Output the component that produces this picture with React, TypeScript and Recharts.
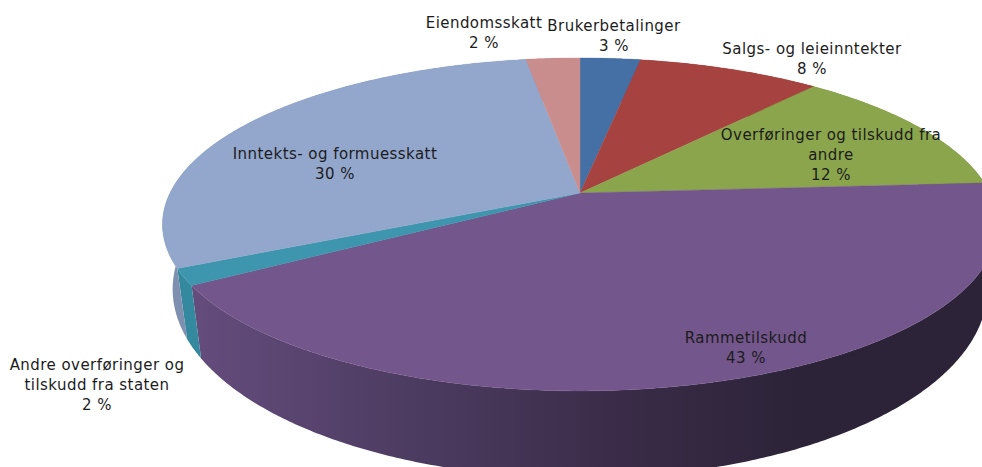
import React from "react";
import { PieChart, Pie } from "recharts";

const names = [
  "Brukerbetalinger",
  "Salgs- og leieinntekter",
  "Overføringer og tilskudd fra andre",
  "Rammetilskudd",
  "Andre overføringer og tilskudd fra staten",
  "Inntekts- og formuesskatt",
  "Eiendomsskatt",
];
const shares = [2.8, 8.5, 12.7, 42.3, 1.6, 29.6, 2.5];
const percentLabels = ["3 %", "8 %", "12 %", "43 %", "2 %", "30 %", "2 %"];
const labelLines = [
  ["Brukerbetalinger"],
  ["Salgs- og leieinntekter"],
  ["Overføringer og tilskudd fra", "andre"],
  ["Rammetilskudd"],
  ["Andre overføringer og", "tilskudd fra staten"],
  ["Inntekts- og formuesskatt"],
  ["Eiendomsskatt"],
];
const topColors = ["#4470a5", "#a64340", "#8ba54c", "#73568c", "#3e95ae", "#93a7cc", "#ca8d8d"];
const wallColors = ["#34557d", "#7d3230", "#69803a", "url(#wallPurple)", "#35899f", "#7e8fb0", "#a06f6f"];
const labelAnchors = [
  { x: 614, y: 31 },
  { x: 812, y: 54 },
  { x: 831, y: 140 },
  { x: 746, y: 343 },
  { x: 97, y: 370 },
  { x: 335, y: 159 },
  { x: 484, y: 28 },
];

const tableData = names.map((name, i) => ({ name, value: shares[i], i }));

const CX = 580;
const CY = 193;
const R = 100;
const P = 0.189;
const TOP = { a: 410, b: 160.5, cy: CY };
const BOTTOM = { a: 400, b: 182, cy: 253.5 };

const project = (deg: number, f: { a: number; b: number; cy: number }) => {
  const t = ((90 - deg) * Math.PI) / 180;
  const u = Math.sin(t);
  const v = -Math.cos(t);
  const w = 1 - P * v;
  return [CX + (f.a * u) / w, f.cy + (f.b * v) / w];
};

const arc = (a0: number, a1: number, f: { a: number; b: number; cy: number }) => {
  const n = Math.max(2, Math.ceil(Math.abs(a1 - a0) * 2));
  const pts: string[] = [];
  for (let k = 0; k <= n; k++) {
    const [x, y] = project(a0 + ((a1 - a0) * k) / n, f);
    pts.push(`${x.toFixed(2)} ${y.toFixed(2)}`);
  }
  return pts;
};

const TopFace = (props: any) => {
  const { startAngle, endAngle, index } = props;
  const c = topColors[index];
  const d = `M${props.cx} ${props.cy} L${arc(startAngle, endAngle, TOP).join(" L")} Z`;
  return <path d={d} fill={c} stroke={c} strokeWidth={0.4} />;
};

const Wall = (props: any) => {
  const { startAngle, endAngle, index } = props;
  const c = wallColors[index];
  const front = arc(startAngle, endAngle, TOP);
  const back = arc(endAngle, startAngle, BOTTOM);
  const d = `M${front.join(" L")} L${back.join(" L")} Z`;
  return (
    <g>
      <defs>
        <linearGradient id="wallPurple" gradientUnits="userSpaceOnUse" x1={195} y1={0} x2={800} y2={0}>
          <stop offset="0" stopColor="#644c7c" />
          <stop offset="0.35" stopColor="#4d3c62" />
          <stop offset="0.7" stopColor="#3a2c48" />
          <stop offset="1" stopColor="#2c2338" />
        </linearGradient>
      </defs>
      <path d={d} fill={c} />
    </g>
  );
};

const renderLabel = (props: any) => {
  const { index } = props;
  const anchor = labelAnchors[index];
  const lines = [...labelLines[index], percentLabels[index]];
  return (
    <text
      key={index}
      x={anchor.x}
      y={anchor.y}
      textAnchor="middle"
      fontFamily="DejaVu Sans"
      fontSize={15}
      letterSpacing={0.45}
      fill="#1c1c1c"
    >
      {lines.map((line, k) => (
        <tspan key={k} x={anchor.x} dy={k === 0 ? 0 : 20}>
          {line}
        </tspan>
      ))}
    </text>
  );
};

export default function App() {
  return (
    <div style={{ position: "absolute", left: 0, top: 0, width: 982, height: 467, background: "#fff", overflow: "hidden" }}>
      <PieChart width={982} height={467} margin={{ top: 0, right: 0, bottom: 0, left: 0 }}>
        <Pie
          data={tableData}
          dataKey="value"
          nameKey="name"
          cx={CX}
          cy={CY}
          outerRadius={R}
          startAngle={90}
          endAngle={-270}
          stroke="none"
          shape={Wall}
          isAnimationActive={false}
        />
        <Pie
          data={tableData}
          dataKey="value"
          nameKey="name"
          cx={CX}
          cy={CY}
          outerRadius={R}
          startAngle={90}
          endAngle={-270}
          stroke="none"
          shape={TopFace}
          label={renderLabel}
          labelLine={false}
          isAnimationActive={false}
        />
      </PieChart>
    </div>
  );
}
